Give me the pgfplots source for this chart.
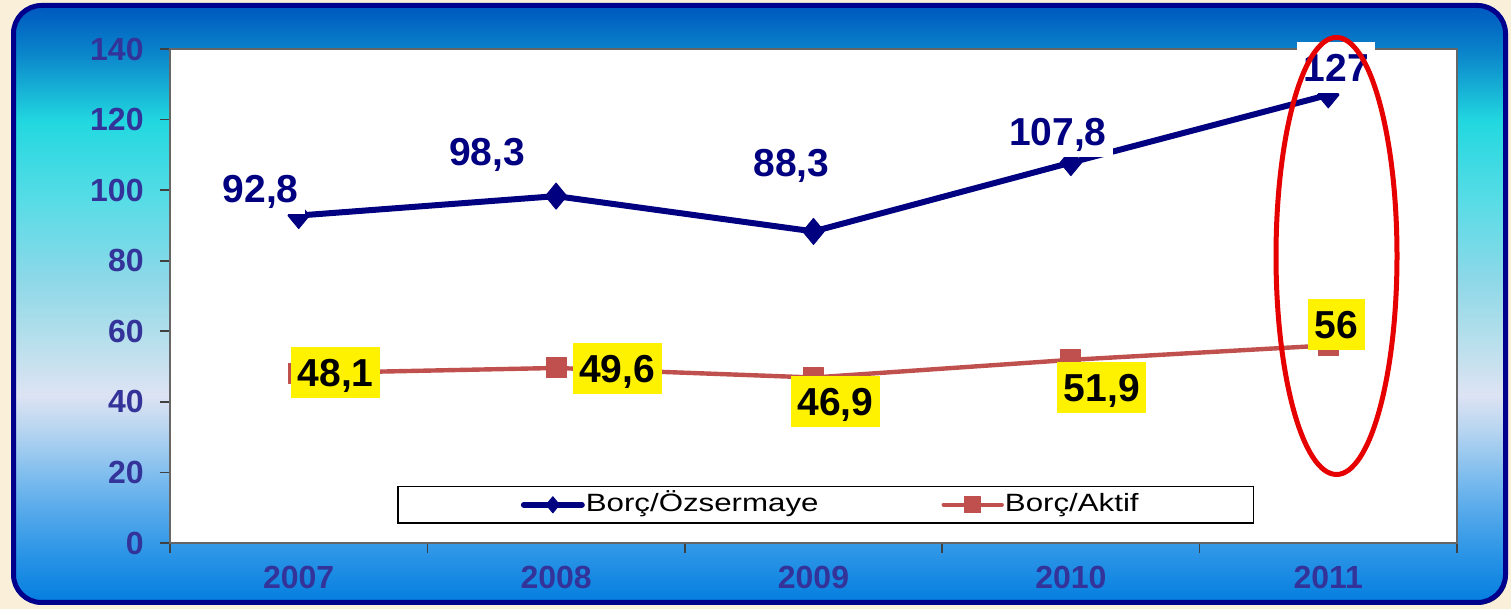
\documentclass[border=0pt]{standalone}
\usepackage{fontspec}
\setmainfont{Liberation Sans}
\usepackage{graphicx}
\usepackage{pgfplots}
\pgfplotsset{compat=1.18}
\usepackage{pgfplotstable}
\definecolor{beige}{HTML}{FAEFD8}
\definecolor{navyb}{HTML}{000080}
\definecolor{tickc}{HTML}{333399}
\definecolor{redl}{HTML}{C0504D}
\definecolor{ovalred}{HTML}{E60000}
\definecolor{framec}{HTML}{00008C}
\definecolor{gA}{HTML}{0880E0}
\definecolor{gB}{HTML}{2A94E6}
\definecolor{gC}{HTML}{4FA6EA}
\definecolor{gD}{HTML}{7CBCEE}
\definecolor{gE}{HTML}{B8D5F0}
\definecolor{gF}{HTML}{DDE3F3}
\definecolor{gG}{HTML}{B0DEEB}
\definecolor{gH}{HTML}{8ED8E8}
\definecolor{gI}{HTML}{58DCE6}
\definecolor{gJ}{HTML}{22D8E0}
\definecolor{gK}{HTML}{0A84CA}
\definecolor{gL}{HTML}{005CC0}
\pgfdeclareverticalshading{bgshade}{100bp}{
color(0bp)=(gA); color(25.4bp)=(gA); color(29bp)=(gB); color(32.1bp)=(gC);
color(35.5bp)=(gD); color(39.5bp)=(gE); color(42.4bp)=(gF); color(47.8bp)=(gG);
color(52bp)=(gH); color(58.6bp)=(gI); color(65.3bp)=(gJ); color(71.1bp)=(gK);
color(74.6bp)=(gL); color(100bp)=(gL)}

\pgfplotstableread{
x y dx dy lab
0 92.8 -19 13.5 {92,8}
1 98.3 -34.5 22.5 {98,3}
2 88.3 -11 34.5 {88,3}
3 107.8 -6.5 15.75 {107,8}
4 127 4 13.5 127
}\tblA
\pgfplotstableread{
x y dx dy lab
0 48.1 18.5 0.5 {48,1}
1 49.6 30.5 -0.25 {49,6}
2 46.9 11 -12 {46,9}
3 51.9 15.5 -14 {51,9}
4 56 4 10.5 56
}\tblB

\begin{document}
\begin{tikzpicture}
\fill[beige] (0,0) rectangle (755.5pt,304.5pt);
\useasboundingbox (0,0) rectangle (755.5pt,304.5pt);
\fill[black!75, rounded corners=14pt] (7.75pt,2.25pt) rectangle (753.75pt,300.75pt);
\shade[shading=bgshade, draw=framec, line width=2.5pt, rounded corners=14pt] (6.75pt,3.25pt) rectangle (752.75pt,301.75pt);
\begin{axis}[
  at={(85pt,33pt)}, anchor=south west,
  width=643.5pt, height=247pt, scale only axis,
  xmin=-0.5, xmax=4.5, ymin=0, ymax=140,
  clip=false,
  axis background/.style={fill=white},
  axis line style={draw=black!60, line width=1pt},
  ytick={0,20,...,140},
  xtick={-0.5,0.5,...,4.5},
  xticklabels={,,,,,},
  extra x ticks={0,1,2,3,4},
  extra x tick labels={2007,2008,2009,2010,2011},
  extra x tick style={major tick length=0pt},
  xtick pos=bottom, ytick pos=left,
  tick align=outside,
  major tick length=5pt,
  tick style={draw=black!75, line width=0.8pt},
  /pgf/number format/assume math mode=true,
  ticklabel style={font=\fontsize{16}{16}\selectfont\bfseries, text=tickc},
  yticklabel style={anchor=east, inner sep=0pt, xshift=-8pt},
  xticklabel style={anchor=north, inner sep=0pt, yshift=-11.5pt},
  legend columns=2,
  legend style={at={(rel axis cs:0.1764,0.0385)}, anchor=south west,
    draw=black, line width=0.8pt, fill=white,
    inner xsep=57pt, inner ysep=3.4pt,
    font=\fontsize{12.5}{12.5}\selectfont,
    nodes={inner xsep=0.5pt, inner ysep=0pt, text height=9pt, text depth=2.6pt},
    /tikz/column 2/.style={column sep=56.5pt}},
  legend image code/.code={
    \path (-4.5pt,0pt);
    \draw[mark repeat=2,mark phase=2,#1, mark size=4pt] plot coordinates {(0pt,0pt) (14.5pt,0pt) (29pt,0pt)};
  },
]
\addplot[navyb, line width=3pt, line join=round, line cap=round,
  mark=diamond*, mark size=6.5pt, mark options={solid, fill=navyb, line width=0.5pt, xscale=1.1},
  visualization depends on={\thisrow{dx} \as \dx},
  visualization depends on={\thisrow{dy} \as \dy},
  point meta=explicit symbolic,
  nodes near coords,
  nodes near coords style={anchor=center, xshift=\dx pt, yshift=\dy pt,
    font=\fontsize{19.5}{19.5}\selectfont\bfseries,
    text height=14pt, text depth=0pt, inner ysep=5.75pt, inner xsep=3.3pt,
    fill=white, text=navyb}]
  table[x=x, y=y, meta=lab] {\tblA};
\addlegendentry{\scalebox{1.25}[1]{Borç/Özsermaye}}
\addplot[redl, line width=2.2pt, line join=round, line cap=round,
  mark=square*, mark size=5pt, mark options={solid, fill=redl, line width=0.5pt},
  visualization depends on={\thisrow{dx} \as \dx},
  visualization depends on={\thisrow{dy} \as \dy},
  point meta=explicit symbolic,
  nodes near coords,
  nodes near coords style={anchor=center, xshift=\dx pt, yshift=\dy pt,
    font=\fontsize{19.5}{19.5}\selectfont\bfseries,
    text height=14pt, text depth=0pt, inner ysep=5.75pt, inner xsep=3.3pt,
    fill=yellow, text=black}]
  table[x=x, y=y, meta=lab] {\tblB};
\addlegendentry{\scalebox{1.25}[1]{Borç/Aktif}}
\end{axis}
\draw[ovalred, line width=2.5pt] (668.25pt,176.5pt) ellipse [x radius=30.25pt, y radius=109.25pt];
\end{tikzpicture}
\end{document}
